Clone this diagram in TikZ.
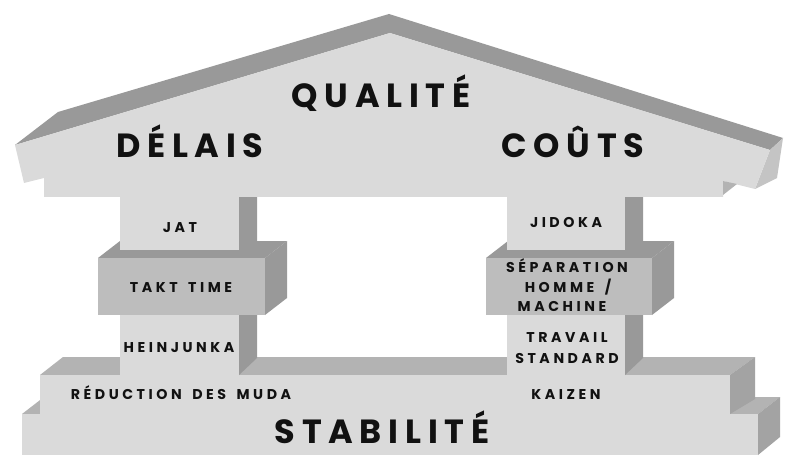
\documentclass[tikz,border=0pt]{standalone}
\usepackage{fontspec}
\setmainfont{Poppins}
\newfontfamily\popbig{Poppins}[LetterSpace=20]
\newfontfamily\popsmall{Poppins}[LetterSpace=25,WordSpace=1.6]
\definecolor{lightg}{HTML}{DADADA}
\definecolor{darkg}{HTML}{999999}
\definecolor{midg}{HTML}{BDBDBD}
\definecolor{roofside}{HTML}{C4C4C4}
\definecolor{basetop}{HTML}{B3B3B3}
\definecolor{baseside}{HTML}{A3A3A3}
\definecolor{txt}{HTML}{111111}
\tikzset{
  frontface/.style={fill=lightg,draw=none},
  darkface/.style={fill=darkg,draw=none},
  midface/.style={fill=midg,draw=none},
  topface/.style={fill=basetop,draw=none},
  sideface/.style={fill=baseside,draw=none},
  bigtxt/.style={font=\popbig\bfseries\fontsize{33.5}{33.5}\selectfont,inner sep=0pt,anchor=base,text=txt},
  smalltxt/.style={font=\popsmall\bfseries\fontsize{14.2}{19.5}\selectfont,inner sep=0pt,anchor=base,text=txt}
}
\begin{document}
\begin{tikzpicture}[x=1pt,y=-1pt]
\useasboundingbox (0,0) rectangle (800,473);
\fill[white] (0,0) rectangle (800,473);
% ---- base, lower step
\path[topface] (22,414) -- (44,397) -- (780,397) -- (758,414) -- cycle;
\path[sideface] (758,414) -- (780,397) -- (780,437) -- (758,455) -- cycle;
\path[frontface] (22,414) rectangle (758,455);
% ---- base, upper step
\path[topface] (40,375) -- (63,357) -- (755,357) -- (730,375) -- cycle;
\path[sideface] (730,375) -- (755,357) -- (755,399) -- (730,414) -- cycle;
\path[frontface] (40,375) rectangle (730,414);
% ---- left pillar
\path[darkface] (239,190) -- (257,190) -- (257,358) -- (239,375) -- cycle;
\path[darkface] (98,258) -- (120,241) -- (287,241) -- (265,258) -- cycle;
\path[darkface] (265,258) -- (287,241) -- (287,298) -- (265,315) -- cycle;
\path[midface] (98,258) rectangle (265,315);
\path[frontface] (120,190) rectangle (239,250);
\path[frontface] (120,315) rectangle (239,375);
% ---- right pillar
\path[darkface] (625,190) -- (643,190) -- (643,358) -- (625,375) -- cycle;
\path[darkface] (486,258) -- (508,241) -- (674,241) -- (652,258) -- cycle;
\path[darkface] (652,258) -- (674,241) -- (674,298) -- (652,315) -- cycle;
\path[midface] (486,258) rectangle (652,315);
\path[frontface] (507,190) rectangle (625,250);
\path[frontface] (507,315) rectangle (625,375);
% ---- roof
\path[darkface] (15,145) -- (58,112) -- (389,14) -- (783,138) -- (770,150) -- (390,33) -- cycle;
\path[fill=roofside] (770,150) -- (783,138) -- (777,178) -- (755,189) -- cycle;
\path[frontface] (15,145) -- (390,33) -- (770,150) -- (755,189) -- (723,181) -- (723,197)
   -- (44,197) -- (44,178) -- (24,183) -- cycle;
\path[fill=basetop] (723,181) -- (737,184) -- (723,195) -- cycle;
% ---- texts
\node[bigtxt] (qual) at (381,108) {QUALITÉ};
\node[bigtxt] (delais) at (190,158) {DÉLAIS};
\node[bigtxt] (couts) at (573,158) {COÛTS};
\node[bigtxt] (stab) at (382,443) {STABILITÉ};
\node[smalltxt] (jat) at (180,232) {JAT};
\node[smalltxt] (takt) at (181,292) {TAKT TIME};
\node[smalltxt] (heij) at (179,352) {HEINJUNKA};
\node[smalltxt] (muda) at (181,399) {RÉDUCTION DES MUDA};
\node[smalltxt] (jidoka) at (566,227) {JIDOKA};
\node[smalltxt] (sep1) at (567,272) {SÉPARATION};
\node[smalltxt] (sep2) at (568,292) {HOMME /};
\node[smalltxt] (sep3) at (562,311) {MACHINE};
\node[smalltxt] (trav1) at (567,342) {TRAVAIL};
\node[smalltxt] (trav2) at (567,363) {STANDARD};
\node[smalltxt] (kaizen) at (566,399) {KAIZEN};
\end{tikzpicture}
\end{document}
